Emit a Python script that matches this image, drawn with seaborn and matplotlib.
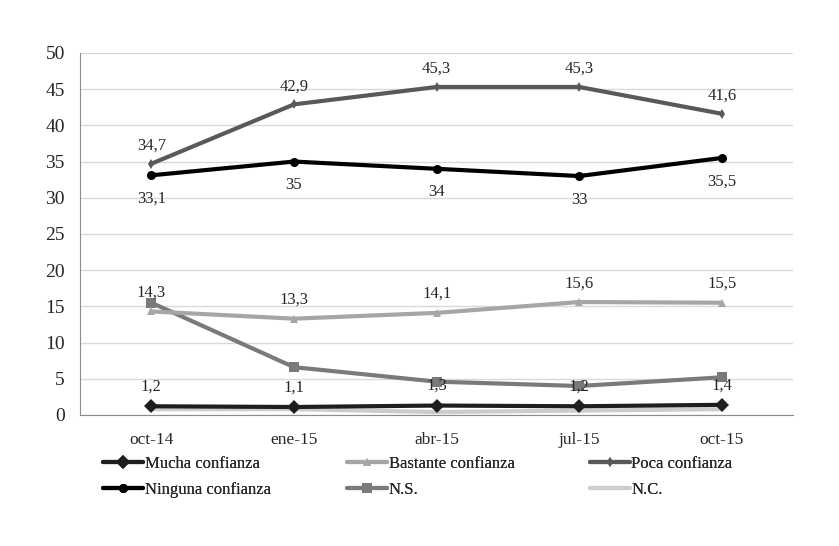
import pandas as pd
import matplotlib.pyplot as plt
import seaborn as sns

# Periods and series values
periods = ['oct-14', 'ene-15', 'abr-15', 'jul-15', 'oct-15']
mucha = [1.2, 1.1, 1.3, 1.2, 1.4]
bastante = [14.3, 13.3, 14.1, 15.6, 15.5]
poca = [34.7, 42.9, 45.3, 45.3, 41.6]
ninguna = [33.1, 35, 34, 33, 35.5]
ns = [15.5, 6.6, 4.6, 4.0, 5.2]
nc = [0.8, 0.8, 0.4, 0.6, 0.8]

series_names = ['Mucha confianza', 'Bastante confianza', 'Poca confianza',
                'Ninguna confianza', 'N.S.', 'N.C.']
series_values = [mucha, bastante, poca, ninguna, ns, nc]

rows = []
for name, vals in zip(series_names, series_values):
    for p, v in zip(periods, vals):
        rows.append({'periodo': p, 'serie': name, 'valor': v})
df = pd.DataFrame(rows)

sns.set_style('white')
plt.rcParams['font.family'] = ['Liberation Serif', 'DejaVu Serif']

colors = {'Mucha confianza': '#1e1e1e', 'Bastante confianza': '#a6a6a6',
          'Poca confianza': '#595959', 'Ninguna confianza': '#000000',
          'N.S.': '#7a7a7a', 'N.C.': '#cccccc'}
markers = {'Mucha confianza': 'D', 'Bastante confianza': '^',
           'Poca confianza': 'd', 'Ninguna confianza': 'o',
           'N.S.': 's', 'N.C.': ''}
sizes = {'Mucha confianza': 7.5, 'Bastante confianza': 6, 'Poca confianza': 5,
         'Ninguna confianza': 6.5, 'N.S.': 7, 'N.C.': 0}

fig = plt.figure(figsize=(8.39, 5.46), dpi=100)
ax = fig.add_axes([0.0954, 0.240, 0.850, 0.663])

# draw in reverse so the darker lines sit on top
for name in series_names[::-1]:
    sub = df[df['serie'] == name]
    sns.lineplot(data=sub, x='periodo', y='valor', ax=ax, color=colors[name],
                 linewidth=3, marker=markers[name] if markers[name] else None,
                 markersize=sizes[name], markeredgewidth=0, label=name,
                 sort=False)

# data labels
def put_labels(vals, dy):
    for i, v in enumerate(vals):
        ax.annotate(f'{v:g}'.replace('.', ','), (i, v), xytext=(0, dy),
                    textcoords='offset points', ha='center', va='center',
                    fontsize=12)

put_labels(poca, 13)
put_labels(ninguna, -17)
put_labels(bastante, 13.5)
put_labels(mucha, 14)

ax.set_ylim(0, 50)
ax.set_yticks(range(0, 51, 5))
ax.set_xlim(-0.5, 4.5)
ax.set_xlabel('')
ax.set_ylabel('')
ax.grid(axis='y', color='#d9d9d9', linewidth=1)
ax.set_axisbelow(True)
for s in ['top', 'right']:
    ax.spines[s].set_visible(False)
ax.spines['left'].set_color('#8c8c8c')
ax.spines['bottom'].set_color('#8c8c8c')
ax.tick_params(axis='y', length=5, color='#8c8c8c', labelsize=14, pad=6)
ax.tick_params(axis='x', length=0, labelsize=12.5, pad=12)
ax.set_xticks([x + 0.5 for x in range(-1, 5)], minor=True)
ax.tick_params(axis='x', which='minor', length=5, color='#8c8c8c')

handles, labels = ax.get_legend_handles_labels()
by_name = {n: h for h, n in zip(handles, labels)}
ax.get_legend().remove()

# one legend per column, two rows each
col_x = [0.1228, 0.4136, 0.703]
for c in range(3):
    names = [series_names[c], series_names[c + 3]]
    leg = fig.legend([by_name[n] for n in names], names, loc='center left',
                     bbox_to_anchor=(col_x[c], 0.127), frameon=False,
                     fontsize=12, handlelength=2.4, handletextpad=0.1,
                     labelspacing=0.6, borderpad=0, borderaxespad=0)
    fig.add_artist(leg)

fig.savefig('out.png', dpi=100)
